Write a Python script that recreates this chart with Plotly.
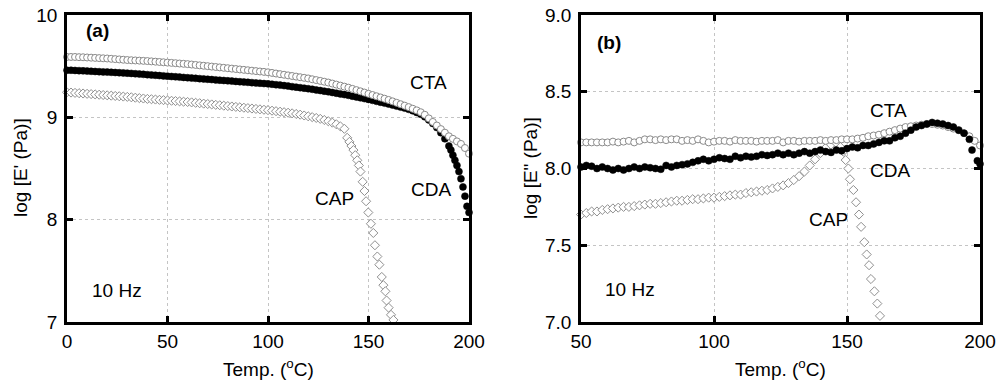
import plotly.graph_objects as go

# ---------------- Panel (a): log E' vs temperature ----------------
t_a = [0, 2, 4, 6, 8, 10, 12, 14, 16, 18, 20, 22, 24, 26, 28, 30, 32, 34, 36, 38,
       40, 42, 44, 46, 48, 50, 52, 54, 56, 58, 60, 62, 64, 66, 68, 70, 72, 74, 76, 78,
       80, 82, 84, 86, 88, 90, 92, 94, 96, 98, 100, 102, 104, 106, 108, 110, 112, 114,
       116, 118, 120, 122, 124, 126, 128, 130, 132, 134, 136, 138, 140, 142, 144, 146,
       148, 150, 152, 154, 156, 158, 160, 162, 164, 166, 168, 170, 172, 174, 176, 178,
       180, 182, 184, 186, 188, 190, 192, 194, 196, 198, 200]
cta_a = [9.59, 9.59, 9.59, 9.588, 9.587, 9.585, 9.583, 9.581, 9.579, 9.577,
         9.575, 9.572, 9.569, 9.566, 9.563, 9.56, 9.558, 9.556, 9.554, 9.552,
         9.55, 9.547, 9.544, 9.541, 9.538, 9.535, 9.532, 9.529, 9.526, 9.523,
         9.52, 9.516, 9.512, 9.508, 9.504, 9.50, 9.496, 9.492, 9.488, 9.484,
         9.48, 9.476, 9.472, 9.468, 9.464, 9.46, 9.456, 9.452, 9.448, 9.444,
         9.44, 9.434, 9.428, 9.422, 9.416, 9.41, 9.404, 9.398, 9.392, 9.386,
         9.38, 9.372, 9.364, 9.356, 9.348, 9.34, 9.33, 9.32, 9.31, 9.30,
         9.29, 9.278, 9.266, 9.254, 9.242, 9.23, 9.218, 9.206, 9.194, 9.182,
         9.17, 9.156, 9.142, 9.128, 9.114, 9.10, 9.084, 9.068, 9.05, 9.025,
         8.99, 8.955, 8.92, 8.885, 8.85, 8.815, 8.79, 8.765, 8.74, 8.70,
         8.645]

t_cda_a = [0, 2, 4, 6, 8, 10, 12, 14, 16, 18, 20, 22, 24, 26, 28, 30, 32, 34, 36, 38,
           40, 42, 44, 46, 48, 50, 52, 54, 56, 58, 60, 62, 64, 66, 68, 70, 72, 74, 76, 78,
           80, 82, 84, 86, 88, 90, 92, 94, 96, 98, 100, 102, 104, 106, 108, 110, 112, 114,
           116, 118, 120, 122, 124, 126, 128, 130, 132, 134, 136, 138, 140, 142, 144, 146,
           148, 150, 152, 154, 156, 158, 160, 162, 164, 166, 168, 170, 172, 174, 176, 178,
           180, 182, 184, 186, 188, 190, 191, 192, 193, 194, 195, 196, 197, 198, 199, 200]
cda_a = [9.46, 9.46, 9.458, 9.456, 9.454, 9.452, 9.45, 9.448, 9.446, 9.444,
         9.442, 9.44, 9.438, 9.436, 9.434, 9.432, 9.429, 9.426, 9.423, 9.42,
         9.417, 9.414, 9.411, 9.408, 9.405, 9.402, 9.399, 9.396, 9.393, 9.39,
         9.387, 9.384, 9.381, 9.378, 9.375, 9.372, 9.369, 9.366, 9.363, 9.36,
         9.357, 9.354, 9.351, 9.348, 9.345, 9.342, 9.339, 9.336, 9.333, 9.33,
         9.327, 9.323, 9.319, 9.315, 9.31, 9.305, 9.30, 9.295, 9.29, 9.285,
         9.28, 9.274, 9.268, 9.262, 9.256, 9.25, 9.243, 9.236, 9.229, 9.222,
         9.215, 9.207, 9.199, 9.191, 9.183, 9.175, 9.166, 9.157, 9.148, 9.139,
         9.13, 9.12, 9.11, 9.10, 9.09, 9.078, 9.064, 9.048, 9.03, 9.005,
         8.975, 8.94, 8.90, 8.85, 8.79, 8.72, 8.68, 8.63, 8.58, 8.53,
         8.47, 8.40, 8.32, 8.23, 8.13, 8.07]

t_cap_a = [0, 2, 4, 6, 8, 10, 12, 14, 16, 18, 20, 22, 24, 26, 28, 30, 32, 34, 36, 38,
           40, 42, 44, 46, 48, 50, 52, 54, 56, 58, 60, 62, 64, 66, 68, 70, 72, 74, 76, 78,
           80, 82, 84, 86, 88, 90, 92, 94, 96, 98, 100, 102, 104, 106, 108, 110, 112, 114,
           116, 118, 120, 122, 124, 126, 128, 130, 132, 134, 136, 138,
           139.4, 140.5, 141.5, 142.5, 143.4, 144.4, 145.2, 146.0, 147.1, 148.0, 148.8,
           149.9, 151.2, 152.4, 153.2, 154.4, 155.4, 156.6, 157.4, 158.4, 159.0, 160.0,
           161.2, 162.4]
cap_a = [9.245, 9.242, 9.239, 9.236, 9.233, 9.23, 9.227, 9.224, 9.221, 9.218,
         9.215, 9.212, 9.209, 9.206, 9.203, 9.20, 9.196, 9.192, 9.188, 9.184,
         9.18, 9.177, 9.174, 9.171, 9.168, 9.165, 9.162, 9.159, 9.156, 9.153,
         9.15, 9.146, 9.142, 9.138, 9.134, 9.13, 9.126, 9.122, 9.118, 9.114,
         9.11, 9.106, 9.102, 9.098, 9.094, 9.09, 9.086, 9.082, 9.078, 9.074,
         9.07, 9.065, 9.06, 9.055, 9.05, 9.045, 9.039, 9.033, 9.026, 9.018,
         9.01, 9.002, 8.994, 8.985, 8.974, 8.962, 8.948, 8.932, 8.912, 8.888,
         8.80, 8.76, 8.72, 8.68, 8.63, 8.58, 8.53, 8.47, 8.37, 8.28, 8.18,
         8.07, 7.96, 7.87, 7.75, 7.64, 7.56, 7.44, 7.36, 7.30, 7.21, 7.14,
         7.07, 7.02]

# ---------------- Panel (b): log E'' vs temperature ----------------
t_b = [50, 52, 54, 56, 58, 60, 62, 64, 66, 68, 70, 72, 74, 76, 78, 80, 82, 84, 86, 88,
       90, 92, 94, 96, 98, 100, 102, 104, 106, 108, 110, 112, 114, 116, 118, 120, 122,
       124, 126, 128, 130, 132, 134, 136, 138, 140, 142, 144, 146, 148, 150, 152, 154,
       156, 158, 160, 162, 164, 166, 168, 170, 172, 174, 176, 178, 180, 182, 184, 186,
       188, 190, 192, 194, 196, 198, 200]
cta_b = [8.17, 8.17, 8.17, 8.17, 8.17, 8.17, 8.175, 8.17, 8.175, 8.18,
         8.17, 8.18, 8.19, 8.19, 8.185, 8.19, 8.185, 8.19, 8.19, 8.18,
         8.185, 8.18, 8.19, 8.18, 8.17, 8.175, 8.18, 8.18, 8.175, 8.185,
         8.18, 8.18, 8.18, 8.175, 8.18, 8.18, 8.18, 8.185, 8.17, 8.18,
         8.18, 8.175, 8.18, 8.18, 8.18, 8.185, 8.18, 8.185, 8.185, 8.19,
         8.19, 8.19, 8.195, 8.20, 8.21, 8.215, 8.22, 8.23, 8.24, 8.25,
         8.26, 8.27, 8.275, 8.28, 8.285, 8.29, 8.29, 8.285, 8.28, 8.27,
         8.26, 8.25, 8.23, 8.21, 8.18, 8.15]

t_cda_b = [50, 52, 54, 56, 58, 60, 62, 64, 66, 68, 70, 72, 74, 76, 78, 80, 82, 84, 86, 88,
           90, 92, 94, 96, 98, 100, 102, 104, 106, 108, 110, 112, 114, 116, 118, 120, 122,
           124, 126, 128, 130, 132, 134, 136, 138, 140, 142, 144, 146, 148, 150, 152, 154,
           156, 158, 160, 162, 164, 166, 168, 170, 172, 174, 176, 178, 180, 182, 184, 186,
           188, 190, 192, 194, 196, 197, 199, 200]
cda_b = [8.01, 8.02, 8.015, 8.00, 8.01, 8.00, 7.99, 8.00, 7.99, 8.00,
         8.01, 8.00, 8.01, 8.005, 8.00, 7.995, 8.02, 8.01, 8.02, 8.025,
         8.03, 8.04, 8.05, 8.06, 8.05, 8.06, 8.07, 8.065, 8.06, 8.08,
         8.07, 8.08, 8.075, 8.08, 8.09, 8.085, 8.09, 8.10, 8.09, 8.10,
         8.09, 8.10, 8.11, 8.10, 8.11, 8.12, 8.11, 8.105, 8.12, 8.115,
         8.13, 8.14, 8.135, 8.15, 8.15, 8.16, 8.17, 8.18, 8.18, 8.20,
         8.21, 8.23, 8.25, 8.27, 8.28, 8.29, 8.30, 8.295, 8.29, 8.28,
         8.27, 8.25, 8.23, 8.19, 8.12, 8.05, 8.03]

t_cap_b = [50, 52, 54, 56, 58, 60, 62, 64, 66, 68, 70, 72, 74, 76, 78, 80, 82, 84, 86, 88,
           90, 92, 94, 96, 98, 100, 102, 104, 106, 108, 110, 112, 114, 116, 118, 120, 122,
           124, 126, 128, 130, 132, 134, 136, 138, 140, 142, 144, 146, 147.5,
           148.6, 149.5, 150.5, 151.1, 152.4, 153.4, 154.5, 155.3, 156.5, 157.4, 158.3,
           159.0, 160.3, 161.4, 162.4]
cap_b = [7.70, 7.71, 7.72, 7.72, 7.73, 7.735, 7.74, 7.745, 7.75, 7.75,
         7.755, 7.76, 7.765, 7.77, 7.77, 7.775, 7.78, 7.785, 7.79, 7.79,
         7.795, 7.80, 7.80, 7.805, 7.81, 7.81, 7.815, 7.82, 7.825, 7.83,
         7.83, 7.84, 7.845, 7.85, 7.855, 7.86, 7.87, 7.88, 7.89, 7.905,
         7.925, 7.95, 7.98, 8.02, 8.06, 8.10, 8.135, 8.155, 8.165, 8.14,
         8.11, 8.055, 8.00, 7.93, 7.86, 7.78, 7.70, 7.62, 7.52, 7.44, 7.37,
         7.28, 7.20, 7.12, 7.04]

ticks_a_x = [0, 50, 100, 150, 200]
ticks_a_y = [7, 8, 9, 10]
ticks_b_x = [50, 100, 150, 200]
ticks_b_y = [7.0, 7.5, 8.0, 8.5, 9.0]

FONT = "Liberation Sans, Arial, sans-serif"
fig = go.Figure()

open_circle = dict(symbol="circle", size=7, color="white", line=dict(color="#8a8a8a", width=1))
black_circle = dict(symbol="circle", size=7, color="black", line=dict(color="black", width=0.5))
open_diamond = dict(symbol="diamond", size=7, color="white", line=dict(color="#8f8f8f", width=1))

# panel a
fig.add_trace(go.Scatter(x=t_cap_a, y=cap_a, mode="markers", marker=open_diamond, xaxis="x", yaxis="y", name="CAP", cliponaxis=False))
fig.add_trace(go.Scatter(x=t_cda_a, y=cda_a, mode="markers", marker=black_circle, xaxis="x", yaxis="y", name="CDA", cliponaxis=False))
fig.add_trace(go.Scatter(x=t_a, y=cta_a, mode="markers", marker=open_circle, xaxis="x", yaxis="y", name="CTA", cliponaxis=False))
# panel b
fig.add_trace(go.Scatter(x=t_cap_b, y=cap_b, mode="markers", marker=open_diamond, xaxis="x2", yaxis="y2", name="CAP", cliponaxis=False))
fig.add_trace(go.Scatter(x=t_b, y=cta_b, mode="markers", marker=open_circle, xaxis="x2", yaxis="y2", name="CTA", cliponaxis=False))
fig.add_trace(go.Scatter(x=t_cda_b, y=cda_b, mode="markers", marker=black_circle, xaxis="x2", yaxis="y2", name="CDA", cliponaxis=False))

W, H = 1000, 386
def px(x):
    return x / W
def py(y):
    return (H - y) / H

axis_common = dict(
    showline=True, linecolor="black", linewidth=2.5, mirror="ticks",
    ticks="inside", ticklen=6, tickwidth=2.5, tickcolor="black",
    showgrid=True, gridcolor="#c4c4c4", griddash="dot", gridwidth=1,
    zeroline=False, automargin=False,
    tickfont=dict(family=FONT, size=19, color="black"),
)

fig.update_layout(
    width=W, height=H, margin=dict(l=0, r=0, t=0, b=0, autoexpand=False),
    paper_bgcolor="white", plot_bgcolor="white", showlegend=False,
    xaxis=dict(domain=[px(67), px(469)], range=[0, 200], tickvals=ticks_a_x,
               anchor="y", **axis_common),
    yaxis=dict(domain=[py(322), py(15)], range=[7, 10], tickvals=ticks_a_y,
               anchor="x", ticklabelstandoff=3, **axis_common),
    xaxis2=dict(domain=[px(581), px(980)], range=[50, 200], tickvals=ticks_b_x,
                anchor="y2", **axis_common),
    yaxis2=dict(domain=[py(322), py(15)], range=[7, 9], tickvals=ticks_b_y,
                tickformat=".1f", anchor="x2", ticklabelstandoff=3, **axis_common),
)

def txt(x, y, s, xref, yref, bold=False, size=19, **kw):
    fig.add_annotation(x=x, y=y, xref=xref, yref=yref, text=f"<b>{s}</b>" if bold else s,
                       showarrow=False, xanchor="center", yanchor="middle",
                       font=dict(family=FONT, size=size, color="black"), **kw)

# panel a labels
txt(15, 9.85, "(a)", "x", "y", bold=True)
txt(180, 9.345, "CTA", "x", "y")
txt(181, 8.29, "CDA", "x", "y")
txt(133, 8.21, "CAP", "x", "y")
txt(25, 7.31, "10 Hz", "x", "y")
# panel b labels
txt(60.5, 8.82, "(b)", "x2", "y2", bold=True)
txt(165.5, 8.38, "CTA", "x2", "y2")
txt(166, 7.99, "CDA", "x2", "y2")
txt(143, 7.665, "CAP", "x2", "y2")
txt(68.5, 7.21, "10 Hz", "x2", "y2")

# axis titles
txt(px(268), py(368), "Temp. (<sup>o</sup>C)", "paper", "paper")
txt(px(780), py(368), "Temp. (<sup>o</sup>C)", "paper", "paper")
txt(px(20), py(168), "log [E' (Pa)]", "paper", "paper", textangle=-90)
txt(px(530), py(168), "log [E\" (Pa)]", "paper", "paper", textangle=-90)

fig.write_html(
    "out.html",
    config={"displayModeBar": False},
    post_script="document.body.style.margin='0';document.body.style.overflow='hidden';",
)
